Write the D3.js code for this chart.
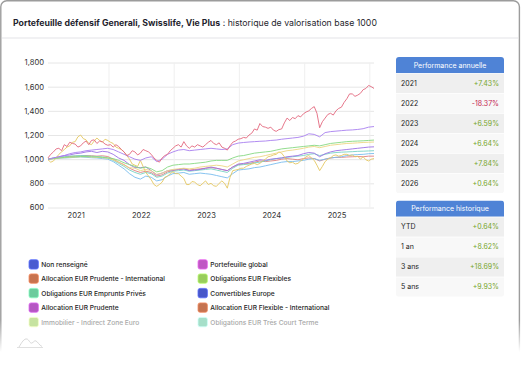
<!DOCTYPE html>
<html><head><meta charset="utf-8">
<script src="https://cdn.jsdelivr.net/npm/d3@7"></script>
<style>body{margin:0;background:#fff;} svg{display:block;font-family:Inter,"Noto Sans",sans-serif;}</style>
</head><body><svg id="c" width="521" height="376"></svg>
<script>
// ---------- DATA ----------
const startDate = "2021-01-27"; // first observation
const endDate = "2026-01-27";   // last observation
const yTicks = [600, 800, 1000, 1200, 1400, 1600, 1800];
const xLabels = ["2021", "2022", "2023", "2024", "2025"];

// semi-monthly observations (121 points)
const redValues = [1010,1040,1060,1085,1090,1070,1120,1105,1140,1130,1125,1100,1110,1135,1150,1120,1155,1160,1130,1150,1145,1125,1115,1120,1100,1120,1105,1080,1060,1030,1040,1070,1060,1035,1050,1080,1070,1060,1040,1010,990,975,1010,1030,1040,1070,1090,1110,1120,1100,1145,1110,1090,1110,1100,1120,1110,1100,1120,1140,1155,1130,1120,1135,1100,1090,1075,1110,1140,1150,1165,1170,1180,1175,1200,1215,1250,1240,1295,1270,1265,1255,1265,1240,1230,1245,1250,1300,1340,1320,1345,1335,1360,1350,1375,1390,1400,1420,1435,1380,1260,1310,1340,1370,1380,1365,1400,1420,1430,1470,1500,1540,1540,1520,1530,1545,1575,1585,1610,1600,1585];
const yellowValues = [995,975,985,1010,1040,1060,1080,1100,1110,1140,1145,1185,1200,1170,1160,1130,1120,1150,1175,1155,1140,1165,1155,1140,1130,1100,1090,1080,1060,1030,1000,960,950,940,990,940,890,860,830,790,775,790,810,850,860,880,895,880,880,860,840,790,790,815,810,790,780,800,820,790,800,780,775,800,820,800,760,850,905,910,915,925,925,940,950,960,965,955,965,985,1000,1020,1025,1035,1040,1060,1050,1020,985,970,975,960,965,985,1000,1020,1030,1010,990,950,905,940,980,1000,1010,1030,1035,1025,1030,1040,1040,1030,1035,1020,1025,1000,1020,995,985,1000,1005];
// monthly observations (61 points)
const lavenderValues = [1000,1010,1020,1030,1045,1055,1060,1070,1075,1080,1085,1090,1080,1060,1040,1020,1000,990,1010,1020,980,1000,1040,1060,1075,1080,1070,1075,1080,1085,1090,1085,1080,1085,1120,1133,1138,1142,1145,1148,1150,1155,1158,1165,1170,1175,1180,1190,1210,1205,1185,1220,1228,1232,1236,1240,1242,1246,1252,1265,1270];
const greenValues = [1000,1005,1010,1015,1018,1020,1022,1022,1020,1018,1015,1010,1005,990,970,955,940,925,935,920,895,905,935,950,955,960,960,965,970,975,985,990,990,990,1010,1025,1030,1040,1050,1055,1060,1065,1075,1085,1090,1095,1100,1105,1110,1115,1110,1120,1130,1135,1140,1145,1148,1150,1152,1155,1158];
const yellowLightValues = [1000,1005,1010,1012,1015,1018,1020,1020,1018,1015,1012,1008,995,975,950,930,925,905,915,905,875,885,905,915,920,925,920,925,935,940,945,950,945,935,960,985,995,1005,1015,1020,1030,1040,1050,1060,1070,1075,1082,1090,1100,1105,1095,1105,1115,1120,1125,1130,1132,1135,1138,1140,1142];
const violetValues = [1000,1010,1020,1030,1035,1045,1050,1060,1065,1055,1065,1060,1040,1010,990,955,930,930,935,905,870,885,905,910,915,920,905,910,915,925,935,925,915,905,935,960,965,975,985,995,990,1000,1005,1010,1020,1025,1030,1045,1055,1050,1020,1045,1060,1070,1075,1080,1085,1090,1095,1100,1102];
const blueValues = [1000,1005,1008,1010,1012,1015,1018,1015,1012,1010,1005,1000,980,950,920,880,850,835,860,850,820,830,860,880,885,890,875,880,885,880,875,865,855,845,880,910,915,920,930,935,945,955,965,975,980,980,985,990,1000,1005,990,1000,1010,1015,1020,1030,1035,1038,1040,1045,1047];
const tealValues = [1000,1008,1015,1020,1025,1028,1030,1028,1025,1022,1018,1012,990,965,940,910,890,875,890,880,850,860,885,900,905,910,900,905,910,915,920,910,900,890,925,950,955,960,970,975,985,995,1005,1010,1015,1020,1025,1030,1040,1045,1030,1040,1050,1055,1058,1060,1062,1065,1066,1068,1070];
const pinkValues = [1000,1005,1012,1018,1022,1025,1028,1030,1028,1025,1028,1022,1000,975,955,925,905,890,900,890,860,870,895,905,915,920,910,915,920,925,930,925,915,905,935,955,960,965,975,985,980,985,990,1000,1005,1000,995,1005,1010,1005,985,1000,1010,1015,1015,1018,1020,1022,1020,1025,1025];

const lineColors = ["#e3687e","#a980f0","#86d882","#ecd683","#e4c862","#9c70e6","#79bdee","#78d3c4","#e08080"];

const legendNames = ["Non renseigné","Portefeuille global","Allocation EUR Prudente - International","Obligations EUR Flexibles","Obligations EUR Emprunts Privés","Convertibles Europe","Allocation EUR Prudente","Allocation EUR Flexible - International","Immobilier - Indirect Zone Euro","Obligations EUR Très Court Terme"];
const legendColors = ["#4a5bd0","#c057c4","#c8734f","#98cd5c","#6ccb9d","#4857c9","#b557c3","#c57350","#c6e3a0","#a6dfc9"];
const legendHidden = [false,false,false,false,false,false,false,false,true,true];

const annualLabels = ["2021","2022","2023","2024","2025","2026"];
const annualPerf = [7.43,-18.37,6.59,6.64,7.84,0.64];
const histLabels = ["YTD","1 an","3 ans","5 ans"];
const histPerf = [0.64,8.62,18.69,9.93];

// ---------- BUILD ----------
const svg = d3.select("#c");
const defs = svg.append("defs");
const grad = defs.append("linearGradient").attr("id","fade").attr("gradientUnits","userSpaceOnUse")
  .attr("x1",0).attr("y1",0).attr("x2",0).attr("y2",376);
grad.append("stop").attr("offset", 320/376).attr("stop-color","#9c9c9c");
grad.append("stop").attr("offset", 352/376).attr("stop-color","#ffffff");

// card
svg.append("rect").attr("x",0.8).attr("y",0.8).attr("width",518.6).attr("height",420).attr("rx",6)
  .attr("fill","#fff").attr("stroke","url(#fade)").attr("stroke-width",1.4);
svg.append("rect").attr("x",2).attr("y",37).attr("width",516).attr("height",2).attr("fill","#f1f1f3");

// title
const title = svg.append("text").attr("x",13).attr("y",25.5).attr("font-size",9).attr("fill","#1f1f2e");
title.append("tspan").attr("font-weight",700).text("Portefeuille défensif Generali, Swisslife, Vie Plus");
title.append("tspan").attr("font-weight",400).text(" : historique de valorisation base 1000");
function fit(sel, target){ const w = sel.node().getComputedTextLength(); const fs = +sel.attr("font-size"); sel.attr("font-size", fs*target/w); return fs*target/w; }
fit(title, 364);

// chart
const parse = d3.timeParse("%Y-%m-%d");
const t0 = parse(startDate), t1 = parse(endDate);
const x = d3.scaleTime().domain([t0, t1]).range([48, 374]);
const y = d3.scaleLinear().domain([600, 1800]).range([207.5, 62.5]);
const plotW = 374 - 48;

const g = svg.append("g");
const yAxis = g.append("g").attr("transform","translate(48,0)")
  .call(d3.axisLeft(y).tickValues(yTicks).tickFormat(d3.format(",")).tickSize(-plotW).tickPadding(4));
yAxis.select(".domain").remove();
yAxis.selectAll("line").attr("stroke","#e6e6e6").attr("stroke-width",1);
yAxis.selectAll("text").attr("font-size",7.6).attr("fill","#333").attr("font-family","Inter, sans-serif");

const yearStarts = xLabels.map(l => new Date(+l + 1, 0, 1));
const vg = g.append("g").attr("transform","translate(0,62.5)")
  .call(d3.axisBottom(x).tickValues(yearStarts).tickSize(145).tickFormat(""));
vg.select(".domain").remove();
vg.selectAll("line").attr("stroke","#efefef");

const xa = g.append("g").attr("transform","translate(0,208)")
  .call(d3.axisBottom(x).tickValues(xLabels.map(l => new Date(+l, 6, 1))).tickFormat(d => xLabels[xLabels.indexOf(String(d.getFullYear()))]).tickSize(0).tickPadding(5));
xa.select(".domain").remove();
xa.selectAll("text").attr("font-size",7.6).attr("fill","#333").attr("font-family","Inter, sans-serif");

const series = [
  {v: pinkValues, c: lineColors[8]}, {v: tealValues, c: lineColors[7]}, {v: blueValues, c: lineColors[6]},
  {v: violetValues, c: lineColors[5]}, {v: yellowValues, c: lineColors[4]}, {v: yellowLightValues, c: lineColors[3]},
  {v: greenValues, c: lineColors[2]}, {v: lavenderValues, c: lineColors[1]}, {v: redValues, c: lineColors[0]}
];
const dateAt = (i, n) => new Date(+t0 + (t1 - t0) * i / (n - 1));
g.append("g").selectAll("path").data(series).join("path")
  .attr("d", s => d3.line().x((d, i) => x(dateAt(i, s.v.length))).y(d => y(d))(s.v))
  .attr("fill","none").attr("stroke", s => s.c).attr("stroke-width",1).attr("stroke-opacity",0.9)
  .attr("stroke-linejoin","round");

// legend
const lg = svg.append("g");
const colX = [29, 198], rowY = [264.3, 278.5, 293, 307.5, 322];
legendNames.forEach((n, i) => {
  const cx = colX[i % 2], cy = rowY[Math.floor(i / 2)];
  lg.append("rect").attr("x",cx).attr("y",cy-4.6).attr("width",9.4).attr("height",9.4).attr("rx",2)
    .attr("fill",legendColors[i]).attr("stroke",d3.color(legendColors[i]).brighter(0.6)).attr("stroke-width",0.8);
  lg.append("text").attr("class","lt").attr("x",cx+12.3).attr("y",cy+2.5).attr("font-size",7)
    .attr("font-weight",500)
    .attr("fill", legendHidden[i] ? "#a9a9a9" : "#1e1e1e").text(n);
});
const ref = lg.selectAll(".lt").filter((d,i)=>i===2);
const lfs = fit(ref, 124);
lg.selectAll(".lt").attr("font-size", lfs);

// small icon
svg.append("path").attr("d","M17,347.5 L43,347.5").attr("stroke","#d8d8d8").attr("fill","none").attr("stroke-width",0.8);
svg.append("path").attr("d","M19,347 C22,342 24,338.5 27,339 C29,339.5 30,344 32,343 C34,342 34.5,340 36,341 C38,342 39,345 42,346.5").attr("stroke","#cfcfcf").attr("fill","none").attr("stroke-width",0.8);

// tables
function table(y0, header, labels, vals){
  const tx = 396, tw = 108, hh = 16.3, rh = 20;
  const tg = svg.append("g");
  const h = hh + rh*labels.length;
  const cid = "clip"+Math.round(y0);
  defs.append("clipPath").attr("id",cid).append("rect").attr("x",tx).attr("y",y0).attr("width",tw).attr("height",h).attr("rx",3);
  const inner = tg.append("g").attr("clip-path",`url(#${cid})`);
  inner.append("rect").attr("x",tx).attr("y",y0).attr("width",tw).attr("height",hh).attr("fill","#4f83d6");
  labels.forEach((l,i)=>{
    inner.append("rect").attr("x",tx).attr("y",y0+hh+i*rh).attr("width",tw).attr("height",rh)
      .attr("fill", i%2===0 ? "#efefef" : "#f8f8f8");
    inner.append("rect").attr("x",tx).attr("y",y0+hh+i*rh).attr("width",tw).attr("height",0.6).attr("fill","#ffffff");
    tg.append("text").attr("x",tx+5).attr("y",y0+hh+i*rh+rh/2+2.5).attr("font-size",7).attr("fill","#222").text(l);
    const v = vals[i];
    tg.append("text").attr("x",tx+tw-5).attr("y",y0+hh+i*rh+rh/2+2.5).attr("font-size",7).attr("text-anchor","end")
      .attr("fill", v < 0 ? "#c4244f" : "#76a52a").text((v>0?"+":"")+v.toFixed(2)+"%");
  });
  tg.append("text").attr("x",tx+tw/2).attr("y",y0+hh/2+2.5).attr("font-size",7).attr("text-anchor","middle").attr("fill","#fff").text(header);
}
table(57, "Performance annuelle", annualLabels, annualPerf);
table(200.5, "Performance historique", histLabels, histPerf);
</script></body></html>
